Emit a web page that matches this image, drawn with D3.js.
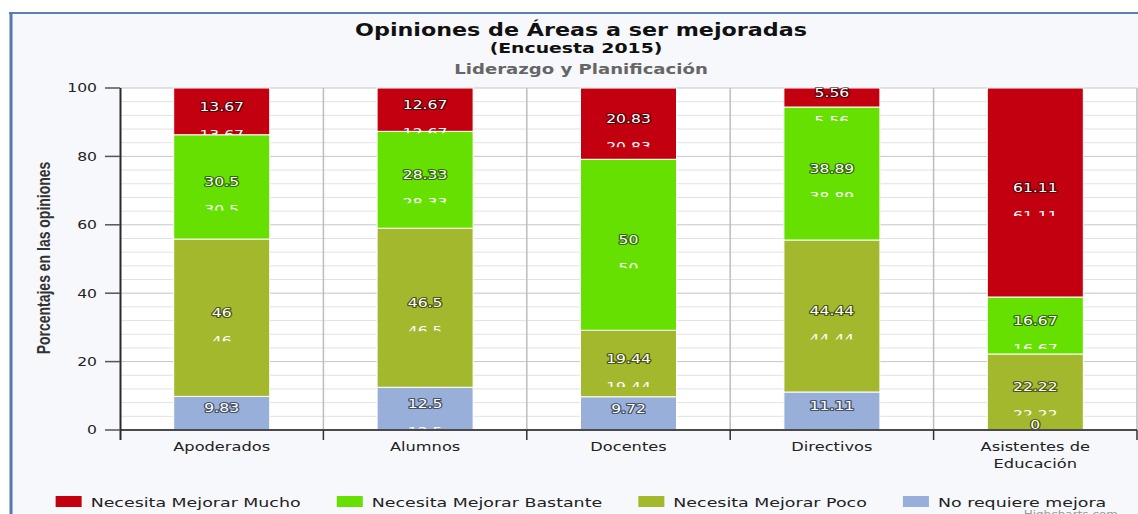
<!DOCTYPE html>
<html><head><meta charset="utf-8">
<script src="https://cdn.jsdelivr.net/npm/d3@7"></script>
<style>html,body{margin:0;padding:0;background:#fff;}svg{display:block;}</style>
</head><body>
<script>
const categories = ["Apoderados","Alumnos","Docentes","Directivos","Asistentes de Educación"];
const seriesNames = ["Necesita Mejorar Mucho","Necesita Mejorar Bastante","Necesita Mejorar Poco","No requiere mejora"];
const mucho      = [13.67, 12.67, 20.83, 5.56, 61.11];
const bastante   = [30.5, 28.33, 50, 38.89, 16.67];
const poco       = [46, 46.5, 19.44, 44.44, 22.22];
const noRequiere = [9.83, 12.5, 9.72, 11.11, 0];
const yTicks = [0, 20, 40, 60, 80, 100];
const seriesColors = ["#c2000f", "#66e000", "#a3b82d", "#98afda"];

const W = 1138, H = 514, SX = 1.3;
const FONT = "DejaVu Sans, Verdana, sans-serif";
const svg = d3.select("body").append("svg").attr("width", W).attr("height", H);

function txt(g, x, y, s, o = {}) {
  return g.append("text")
    .attr("transform", `translate(${x},${y}) scale(${o.sx || SX},1)`)
    .attr("text-anchor", o.anchor || "middle")
    .attr("font-family", o.family || FONT)
    .attr("font-size", o.size || 12)
    .attr("font-weight", o.weight || "normal")
    .attr("fill", o.fill || "#333")
    .text(s);
}

// frame
svg.append("rect").attr("width", W).attr("height", H).attr("fill", "#ffffff");
svg.append("rect").attr("x", 10).attr("y", 12).attr("width", W - 10).attr("height", H - 12).attr("fill", "#f7f8fb");
svg.append("line").attr("x1", 9).attr("x2", W).attr("y1", 13).attr("y2", 13).attr("stroke", "#5b80b4").attr("stroke-width", 2);
svg.append("line").attr("x1", 11).attr("x2", 11).attr("y1", 12).attr("y2", H).attr("stroke", "#4f7bb0").attr("stroke-width", 3);

const x = d3.scaleBand().domain(categories).range([120, 1137]).paddingInner(0.528).paddingOuter(0.264);
const y = d3.scaleLinear().domain([0, 100]).range([430, 88]);
const step = x.step();

// plot bg
svg.append("rect").attr("x", 120).attr("y", y(100)).attr("width", 1137 - 120).attr("height", y(0) - y(100)).attr("fill", "#ffffff");

// grid
const grid = svg.append("g");
d3.range(0, 101, 4).forEach(v => {
  grid.append("line").attr("x1", 120).attr("x2", 1137).attr("y1", y(v)).attr("y2", y(v))
    .attr("stroke", v % 20 === 0 ? "#c6c6c6" : "#e2e2e2").attr("stroke-width", 1);
});
const bounds = categories.map(c => x(c) + x.bandwidth() / 2 + step / 2);
bounds.forEach(bx => {
  grid.append("line").attr("x1", bx).attr("x2", bx).attr("y1", y(100)).attr("y2", y(0))
    .attr("stroke", "#bdbdbd").attr("stroke-width", 1.5);
});

// data
const rows = categories.map((c, i) => ({cat: c, s0: mucho[i], s1: bastante[i], s2: poco[i], s3: noRequiere[i]}));
const keys = ["s3", "s2", "s1", "s0"]; // bottom to top
const stacked = d3.stack().keys(keys)(rows);
const colorOf = {s0: seriesColors[0], s1: seriesColors[1], s2: seriesColors[2], s3: seriesColors[3]};

const bars = svg.append("g");
stacked.forEach(layer => {
  bars.selectAll(null).data(layer).enter().append("rect")
    .attr("x", d => x(d.data.cat))
    .attr("width", x.bandwidth())
    .attr("y", d => y(d[1]))
    .attr("height", d => y(d[0]) - y(d[1]))
    .attr("fill", colorOf[layer.key])
    .attr("stroke", "#ffffff").attr("stroke-width", 1);
});

// labels
const defs = svg.append("defs");
const labels = svg.append("g");
let cid = 0;
stacked.forEach(layer => {
  layer.forEach(d => {
    const v = d.data[layer.key];
    const cx = x(d.data.cat) + x.bandwidth() / 2;
    const mid = (y(d[0]) + y(d[1])) / 2;
    const cy = mid - 5;
    const gy = cy + 28;
    const visH = Math.min(6.5, 433 - (gy - 6));
    if (visH > 3.5) {
      const id = "gc" + (cid++);
      defs.append("clipPath").attr("id", id).append("rect")
        .attr("x", cx - 60).attr("width", 120).attr("y", gy - 6).attr("height", visH);
      const gg = labels.append("g").attr("clip-path", `url(#${id})`);
      txt(gg, cx, gy + 4.3, String(v), {size: 12, fill: "#ffffff"});
    }
    txt(labels, cx, cy + 4.3, String(v), {size: 12, fill: "#ffffff"})
      .attr("stroke", "rgba(0,0,0,0.55)").attr("stroke-width", 2.2)
      .attr("stroke-linejoin", "round").style("paint-order", "stroke");
  });
});

// axes
const ax = svg.append("g");
ax.append("line").attr("x1", 120).attr("x2", 1137).attr("y1", y(0)).attr("y2", y(0)).attr("stroke", "#4a4a4a").attr("stroke-width", 2);
ax.append("line").attr("x1", 120.5).attr("x2", 120.5).attr("y1", y(100)).attr("y2", 440).attr("stroke", "#2b2b2b").attr("stroke-width", 2);
yTicks.forEach(t => {
  ax.append("line").attr("x1", 105).attr("x2", 120).attr("y1", y(t)).attr("y2", y(t)).attr("stroke", "#555").attr("stroke-width", 1.5);
  txt(ax, 97, y(t) + 4.3, String(t), {anchor: "end", size: 12, fill: "#222"});
});
bounds.forEach(bx => {
  ax.append("line").attr("x1", bx).attr("x2", bx).attr("y1", y(0)).attr("y2", y(0) + 10).attr("stroke", "#333").attr("stroke-width", 1.5);
});

// category labels with wrapping
const maxW = 150;
categories.forEach(c => {
  const cx = x(c) + x.bandwidth() / 2;
  const words = c.split(" ");
  const lines = [];
  let cur = "";
  const probe = svg.append("text").attr("font-family", FONT).attr("font-size", 12.5);
  words.forEach(w => {
    const t = cur ? cur + " " + w : w;
    probe.text(t);
    if (probe.node().getComputedTextLength() * SX > maxW && cur) { lines.push(cur); cur = w; }
    else cur = t;
  });
  lines.push(cur);
  probe.remove();
  lines.forEach((l, i) => txt(ax, cx, 451 + i * 17, l, {size: 12.5, fill: "#222"}));
});

// y title
svg.append("text")
  .attr("transform", `translate(50,${(y(0) + y(100)) / 2 - 1}) rotate(-90) scale(0.8,1)`)
  .attr("text-anchor", "middle")
  .attr("font-family", "Liberation Sans Narrow, Arial Narrow, sans-serif")
  .attr("font-weight", "bold").attr("font-size", 17.5).attr("fill", "#333")
  .text("Porcentajes en las opiniones");

// titles
txt(svg, 581, 36, "Opiniones de Áreas a ser mejoradas", {size: 17.5, weight: "bold", fill: "#111", sx: 1.27});
txt(svg, 576, 53, "(Encuesta 2015)", {size: 14.5, weight: "bold", fill: "#111", sx: 1.3});
txt(svg, 581, 74, "Liderazgo y Planificación", {size: 13.5, weight: "bold", fill: "#666", sx: 1.34});

// legend
const LSX = 1.34;
const lg = svg.append("g");
const probe = svg.append("text").attr("font-family", FONT).attr("font-size", 13);
const widths = seriesNames.map(n => { probe.text(n); return probe.node().getComputedTextLength() * LSX; });
probe.remove();
const itemW = widths.map(w => 35 + w);
const gap = 36;
const total = d3.sum(itemW) + gap * (seriesNames.length - 1);
let lx = 581 - total / 2;
seriesNames.forEach((n, i) => {
  lg.append("rect").attr("x", lx).attr("y", 496).attr("width", 26).attr("height", 11).attr("fill", seriesColors[i]);
  txt(lg, lx + 35, 507, n, {anchor: "start", size: 13, fill: "#222", sx: LSX});
  lx += itemW[i] + gap;
});

// credits
txt(svg, 1118, 518, "Highcharts.com", {anchor: "end", size: 10, fill: "#999", sx: 1.2});
</script>
</body></html>
